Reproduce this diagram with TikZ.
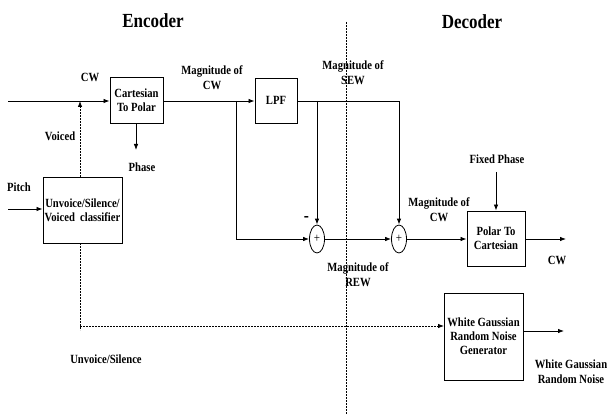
\documentclass[tikz,border=0pt]{standalone}
\usepackage{fontspec}
\setmainfont{Liberation Serif}[FakeStretch=0.85]
\usetikzlibrary{arrows.meta,calc,shapes.geometric}
\begin{document}
\begin{tikzpicture}[x=1pt,y=-1pt,
  lbl/.style={font=\bfseries\fontsize{12.5}{15}\selectfont, align=center, inner sep=0pt},
  ttl/.style={font=\bfseries\fontsize{20}{22}\selectfont, inner sep=0pt},
  blk/.style={draw, line width=0.9pt, minimum width=#1, inner sep=0pt, align=center, font=\bfseries\fontsize{12.5}{14}\selectfont},
  sum/.style={draw, line width=0.8pt, ellipse, minimum width=15pt, minimum height=28pt, inner sep=0pt, font=\fontsize{13}{13}\selectfont},
  ln/.style={line width=0.8pt},
  arr/.style={line width=0.8pt, -{Latex[length=6pt,width=4.5pt]}},
  dsh/.style={line width=0.8pt, dash pattern=on 2pt off 1pt},
  darr/.style={dsh, -{Latex[length=6pt,width=4.5pt]}}
]
\useasboundingbox (0,0) rectangle (607,414);

% titles
\node[ttl] (enc) at (153,21) {Encoder};
\node[ttl] (dec) at (472,22) {Decoder};

% divider
\coordinate (dtop) at (346,22);
\coordinate (dbot) at (346,414);
\draw[dsh, line width=1pt] (dtop) -- (dbot);

% blocks
\node[blk=53pt, minimum height=46pt] (c2p) at (136.5,100) {Cartesian\\To Polar};
\node[blk=42pt, minimum height=45pt] (lpf) at (276,100.5) {LPF};
\node[blk=79pt, minimum height=66pt] (cls) at (82.5,210) {Unvoice/Silence/\\Voiced\ \ classifier};
\node[blk=58pt, minimum height=55pt] (p2c) at (496,238.5) {Polar To\\Cartesian};
\node[blk=79pt, minimum height=87pt, text depth=0pt] (wgn) at (483.5,336.5) {White Gaussian\\Random Noise\\Generator};

\node[sum] (s1) at (317,239) {+};
\node[sum] (s2) at (399,239) {+};

% labels
\node[lbl] (lcw) at (90,77) {CW};
\node[lbl] (lvoiced) at (60,136) {Voiced};
\node[lbl] (lphase) at (142,167) {Phase};
\node[lbl] (lpitch) at (19,187) {Pitch};
\node[lbl] (lmcw) at (212,78) {Magnitude of\\CW};
\node[lbl] (lsew) at (353,73) {Magnitude of\\SEW};
\node[lbl] (lrew) at (358,275) {Magnitude of\\REW};
\node[lbl] (lmcw2) at (439,210) {Magnitude of\\CW};
\node[lbl] (lfix) at (497,159) {Fixed Phase};
\node[lbl] (lcwo) at (557,260) {CW};
\node[lbl] (luv) at (106,359) {Unvoice/Silence};
\node[lbl] (lwgn) at (571,372) {White Gaussian\\Random Noise};
\node[font=\bfseries\fontsize{18}{18}\selectfont, inner sep=0pt] (minus) at (306.5,219) {-};

% coordinates
\coordinate (cwin) at (8,101);
\coordinate (pin) at (8,209);
\coordinate (vtop) at (80,101);
\coordinate (clsb) at (80,243);
\coordinate (dcorner) at (80,326);
\coordinate (dend) at (80,330);
\coordinate (phend) at (136,150);
\coordinate (br1) at (236,101);
\coordinate (br1d) at (236,239);
\coordinate (br2) at (317,101);
\coordinate (s2top) at (399,101);
\coordinate (fixs) at (496,172);
\coordinate (cwout) at (566,239);
\coordinate (wgnin) at (444,326);
\coordinate (wgnout0) at (523,331);
\coordinate (wgnout) at (564,331);

% connectors
\draw[arr] (cwin) -- (c2p.west |- cwin);
\draw[darr] (cls.north -| vtop) -- (vtop);
\draw[arr] (c2p.south -| phend) -- (phend);
\draw[arr] (c2p.east |- br1) -- (lpf.west |- br1);
\draw[arr] (br1) -- (br1d) -- (s1.west);
\draw[arr] (lpf.east |- br2) -- (s2top) -- (s2.north);
\draw[arr] (br2) -- (s1.north);
\draw[arr] (s1.east) -- (s2.west);
\draw[arr] (s2.east) -- (p2c.west |- s2.east);
\draw[arr] (fixs) -- (p2c.north);
\draw[arr] (p2c.east |- cwout) -- (cwout);
\draw[arr] (pin) -- (cls.west |- pin);
\draw[dsh] (clsb) -- (dend);
\draw[darr] (dcorner) -- (wgnin);
\draw[arr] (wgnout0) -- (wgnout);
\end{tikzpicture}
\end{document}
